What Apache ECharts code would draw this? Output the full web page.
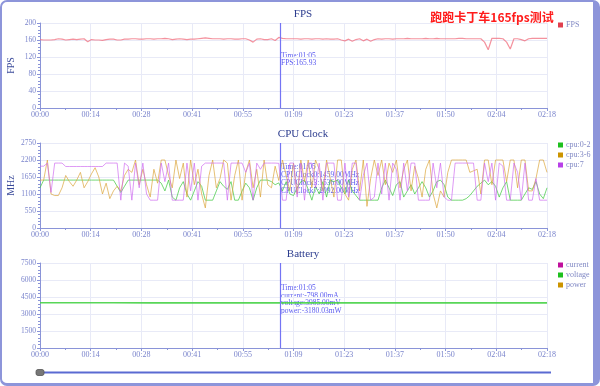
<!DOCTYPE html>
<html>
<head>
<meta charset="utf-8">
<script src="https://cdn.jsdelivr.net/npm/echarts@6/dist/echarts.min.js"></script>
<style>
html,body{margin:0;padding:0;background:#fff;}
#wrap{position:relative;width:600px;height:386px;}
#frame{position:absolute;left:0;top:0;width:600px;height:386px;box-sizing:border-box;border-style:solid;border-color:#8d95da;border-width:2px 7px 3px 2px;border-radius:7px;}
#chart{position:absolute;left:0;top:0;width:600px;height:386px;}
</style>
</head>
<body>
<div id="wrap"><div id="frame"></div><div id="chart"></div></div>
<script>
// ---- data ----
const xTickLabels = ['00:00','00:14','00:28','00:41','00:55','01:09','01:23','01:37','01:50','02:04','02:18'];
const fpsTicks = [0,40,80,120,160,200];
const cpuTicks = [0,550,1100,1650,2200,2750];
const batTicks = [0,1500,3000,4500,6000,7500];

const fps = [
161,160,160,160,161,163,162,160,161,162,
161,162,163,156,161,160,160,159,161,162,
162,160,160,162,162,163,163,162,162,163,
163,162,163,163,164,163,161,162,163,162,
161,162,162,163,164,165,164,163,163,163,
162,163,163,162,162,163,163,160,155,162,
163,161,161,163,159,166,164,163,163,163,
163,162,163,163,162,163,163,162,163,162,
162,163,160,158,162,157,161,163,158,162,
157,161,163,162,163,163,162,163,163,163,
164,163,163,163,163,164,163,163,164,163,
163,163,163,163,164,164,163,163,163,163,
163,155,137,164,164,164,163,155,139,163,
163,161,158,163,164,164,164,164,164];

const cpu0 = [
1300,1550,1550,1550,1550,1550,1550,1550,1550,1550,
1550,1550,1550,1550,1550,1550,1550,1550,1550,1550,
1550,1350,1150,1350,1550,1550,1550,1550,1550,1550,
1550,1550,1550,1450,1200,1550,1000,900,1300,1500,
1100,900,1200,1500,1350,900,900,900,1200,1500,
1350,1250,1500,900,900,1200,1450,1300,900,1300,
1550,1550,1550,1500,1400,1459,1200,1500,1100,1050,
1300,1500,1550,1250,900,1350,1100,1500,1000,1550,
1500,1550,1300,1100,1550,1200,1050,900,900,900,
900,900,900,1300,1550,1300,1050,1400,1500,1000,
1200,1400,1100,1300,1500,1300,1000,1200,1500,1550,
1400,1000,900,900,900,900,950,1050,1200,1350,
1450,1550,1400,1500,1350,1000,1300,1500,900,900,
900,900,1100,1300,1250,1500,1100,950,1300];

const cpu3 = [
1550,1550,2200,1100,1050,1050,1300,1700,1500,1350,
1550,1800,1300,1500,1750,1950,1650,1100,1450,950,
1200,1350,1200,1700,1900,1800,2200,1400,1900,1400,
1000,1900,1450,2200,2200,1700,1300,2200,1600,2100,
1000,2200,1400,1900,1100,650,1700,2200,1300,1600,
2200,2100,900,1700,2200,900,1800,2200,1300,1900,
1000,2200,1400,1300,2000,1536,2200,1700,1200,2100,
1100,2200,1500,2200,1300,2200,1900,1200,2200,1600,
1000,2200,2200,1100,900,1900,2200,1200,2200,700,
1600,2200,1700,2200,1400,2100,1800,2200,1300,1900,
2200,1200,2000,1600,1000,1900,2200,1100,650,1200,
1000,1800,2200,2200,2200,2200,2200,1800,1850,1900,
1100,2200,2200,1400,2200,2200,2200,1500,2200,2200,
1300,2200,2200,1200,1200,1600,2200,2200,1800];

const cpu7 = [
2000,2000,2100,1150,2100,2100,2100,1990,1990,1990,
1990,1990,1990,1990,1990,1990,1990,1990,2100,2100,
2100,2100,900,2100,2000,900,2100,1300,2100,1100,
900,900,900,2100,1500,2100,900,900,900,900,
2100,1200,2100,900,2000,2100,2100,2100,2100,2100,
2100,900,2100,2100,2100,2100,1800,2100,900,2100,
1900,2100,2100,2100,2100,2092,900,900,2100,2100,
1000,2100,900,2100,2100,1300,2100,900,2100,2100,
2100,900,900,2100,1000,2100,2100,900,1700,2100,
900,1000,2100,1100,2100,900,2100,1900,900,2100,
1200,2100,2100,900,900,900,900,2100,1300,2100,
1000,900,900,2100,2100,2100,2100,2100,2100,900,
900,2100,1500,2100,900,2100,2000,900,900,2100,
1800,900,2100,900,900,1600,900,900,900];

const batTimes = [0,10,20,30,40,50,60,65,70,80,90,100,110,120,130,138];
const voltage = [3990,3988,3987,3986,3986,3985,3985,3985,3984,3984,3983,3983,3982,3982,3981,3981];
const current = [-780,-805,-790,-800,-795,-810,-800,-798,-790,-805,-800,-795,-800,-790,-805,-800];
const power = [-3112,-3208,-3149,-3189,-3169,-3228,-3188,-3180,-3148,-3207,-3186,-3166,-3186,-3146,-3205,-3185];

const pointerTime = 65.4;
const fpsTip = ['Time:01:05','FPS:165.93'];
const cpuTip = ['Time:01:05','CPUClock0:1459.00MHz','CPUClock3:1536.00MHz','CPUClock7:2092.00MHz'];
const batTip = ['Time:01:05','current:-798.00mA','voltage:3985.00mV','power:-3180.03mW'];

// ---- chart ----
const pairs = arr => arr.map((v, i) => [i, v]);
const zip = (xs, ys) => xs.map((x, i) => [x, ys[i]]);

const axisColor = '#8a94d8';
const labelColor = '#7a84cc';
const splitColor = '#e8eaf7';
const serif = '"Liberation Serif", "DejaVu Serif", serif';
const grids = [
  {left: 40, right: 53, top: 23, height: 85, outerBoundsMode: 'none', containLabel: false},
  {left: 40, right: 53, top: 143, height: 85, outerBoundsMode: 'none', containLabel: false},
  {left: 40, right: 53, top: 263, height: 85, outerBoundsMode: 'none', containLabel: false}
];

function xAxis(idx) {
  return {
    type: 'value', gridIndex: idx, min: 0, max: 138, interval: 13.8,
    axisLine: {lineStyle: {color: axisColor}},
    axisTick: {show: true, length: 3, lineStyle: {color: axisColor}},
    minorTick: {show: true, splitNumber: 2, length: 2, lineStyle: {color: axisColor}},
    axisLabel: {color: labelColor, fontSize: 8, fontFamily: serif, margin: 3,
      formatter: v => xTickLabels[Math.round(v / 13.8)] || ''},
    splitLine: {show: true, lineStyle: {color: splitColor}}
  };
}
function yAxis(idx, ticks, name) {
  return {
    type: 'value', gridIndex: idx, min: ticks[0], max: ticks[ticks.length - 1],
    interval: ticks[1] - ticks[0],
    name: name, nameLocation: 'middle', nameGap: 24, nameMoveOverlap: false,
    nameTextStyle: {color: '#3a4a9a', fontSize: 10, fontFamily: serif},
    axisLine: {show: true, lineStyle: {color: axisColor}},
    axisTick: {show: true, length: 3, lineStyle: {color: axisColor}},
    minorTick: {show: true, splitNumber: 5, length: 2, lineStyle: {color: axisColor}},
    axisLabel: {color: labelColor, fontSize: 7.5, fontFamily: serif, margin: 4,
      formatter: v => String(ticks[Math.round((v - ticks[0]) / (ticks[1] - ticks[0]))])},
    splitLine: {show: true, lineStyle: {color: splitColor}}
  };
}
function pointer() {
  return {silent: true, symbol: ['none', 'none'], animation: false,
    label: {show: false},
    lineStyle: {color: '#7474f4', width: 1.2, type: 'solid'},
    data: [{xAxis: pointerTime}]};
}
function legend(items, top) {
  return {
    orient: 'vertical', left: 558, top: top, icon: 'rect', itemWidth: 5, itemHeight: 5,
    itemGap: 2, padding: 0, data: items,
    textStyle: {color: '#8088c4', fontSize: 8, fontFamily: serif, padding: [0, 0, 0, -2]}
  };
}
function tipTexts(lines, x, y, lh) {
  return lines.map((t, i) => ({type: 'text', x: x, y: y + i * lh, silent: true,
    style: {text: t, fill: '#5a5af0', font: '7.5px ' + serif, textVerticalAlign: 'middle'}}));
}
function line(name, data, color, lineColor, xi, width, extra) {
  return Object.assign({
    name: name, type: 'line', xAxisIndex: xi, yAxisIndex: xi, data: data,
    showSymbol: false, symbol: 'none', color: color, clip: true,
    lineStyle: {color: lineColor, width: width}
  }, extra || {});
}

const chart = echarts.init(document.getElementById('chart'), null, {renderer: 'canvas'});
chart.setOption({
  animation: false,
  title: [
    {text: 'FPS', left: 298, top: 4, textAlign: 'center',
     textStyle: {color: '#2c3c8e', fontSize: 11, fontWeight: 'normal', fontFamily: serif}},
    {text: 'CPU Clock', left: 298, top: 124, textAlign: 'center',
     textStyle: {color: '#2c3c8e', fontSize: 11, fontWeight: 'normal', fontFamily: serif}},
    {text: 'Battery', left: 298, top: 244, textAlign: 'center',
     textStyle: {color: '#2c3c8e', fontSize: 11, fontWeight: 'normal', fontFamily: serif}},
    {text: '跑跑卡丁车165fps测试', left: 487, top: 6, textAlign: 'center',
     textStyle: {color: '#ff1c1c', fontSize: 12, fontWeight: 'bold', fontFamily: '"Noto Sans CJK SC", sans-serif'}}
  ],
  legend: [
    legend(['FPS'], 21),
    legend(['cpu:0-2', 'cpu:3-6', 'cpu:7'], 141),
    legend(['current', 'voltage', 'power'], 261)
  ],
  grid: grids,
  xAxis: [xAxis(0), xAxis(1), xAxis(2)],
  yAxis: [yAxis(0, fpsTicks, 'FPS'), yAxis(1, cpuTicks, 'MHz'), yAxis(2, batTicks, '')],
  series: [
    line('FPS', pairs(fps), '#e0404e', 'rgba(240,110,125,0.75)', 0, 1.2, {markLine: pointer()}),
    line('cpu:0-2', pairs(cpu0), '#1ec01e', 'rgba(60,200,60,0.7)', 1, 1, {markLine: pointer()}),
    line('cpu:3-6', pairs(cpu3), '#cc9400', 'rgba(220,165,60,0.7)', 1, 1),
    line('cpu:7', pairs(cpu7), '#b840e8', 'rgba(205,100,240,0.65)', 1, 1),
    line('current', zip(batTimes, current), '#c0109c', '#c0109c', 2, 1.2),
    line('voltage', zip(batTimes, voltage), '#1ec01e', 'rgba(70,210,70,0.9)', 2, 1.6, {markLine: pointer()}),
    line('power', zip(batTimes, power), '#cc9400', '#cc9400', 2, 1.2)
  ],
  graphic: [].concat(
    tipTexts(fpsTip, 281, 56, 7.3),
    tipTexts(cpuTip, 281, 167, 8.1),
    tipTexts(batTip, 281, 288.5, 7.5),
    [
      {type: 'line', silent: true, shape: {x1: 37, y1: 372.5, x2: 551, y2: 372.5},
       style: {stroke: '#5a6ad2', lineWidth: 2}},
      {type: 'rect', silent: true, shape: {x: 36, y: 369.5, width: 8, height: 6, r: 2},
       style: {fill: '#777', stroke: '#555', lineWidth: 0.8}}
    ])
});
</script>
</body>
</html>
